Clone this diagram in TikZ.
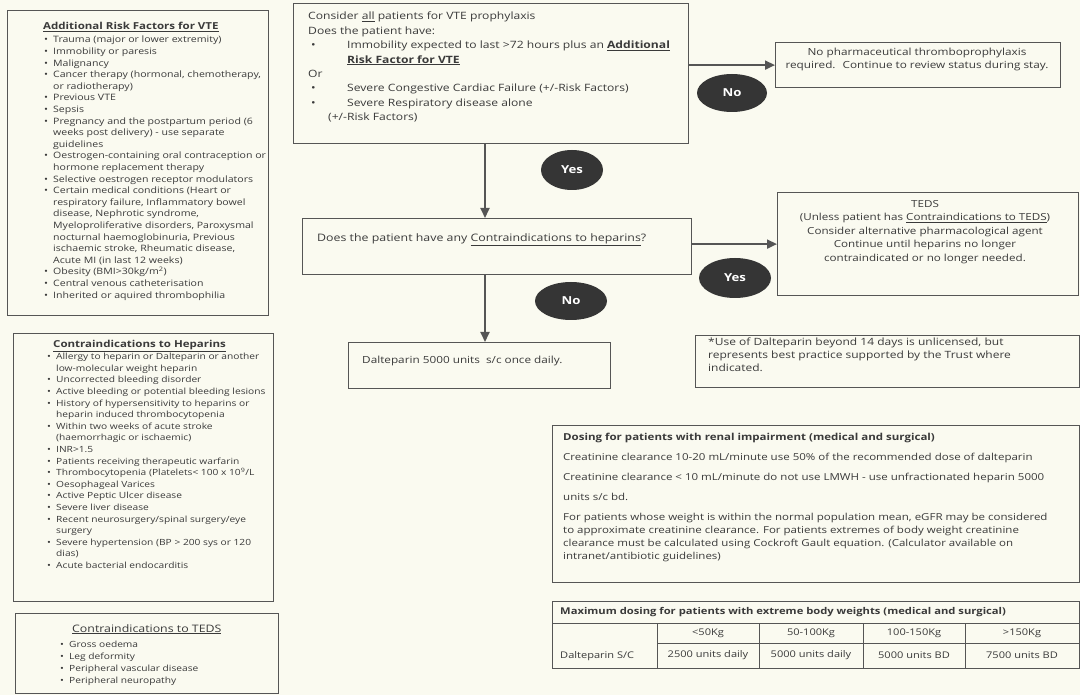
\documentclass[tikz,border=0pt]{standalone}
\usepackage{fontspec}
\setmainfont{Open Sans}[FakeStretch=1.2]
\usepackage{tikz}
\usetikzlibrary{shapes.geometric, arrows.meta, positioning}
\definecolor{paper}{HTML}{FAFAF0}
\definecolor{ink}{HTML}{3A3A3A}
\definecolor{frame}{HTML}{555555}
\definecolor{bubble}{HTML}{353535}
\tikzstyle{panel}  = [draw=frame, line width=1.2pt, anchor=north west, inner sep=0pt]
\tikzstyle{txt}    = [anchor=north west, inner sep=0pt, align=left, text=ink]
\tikzstyle{answer} = [ellipse, fill=bubble, text=white, inner sep=0pt,
                      font=\fontsize{11}{13}\selectfont\bfseries]
\tikzstyle{arrow}  = [-{Triangle[length=10pt,width=9pt]}, line width=1.8pt, color=frame]
\newcommand{\fsz}[2]{\fontsize{#1}{#2}\selectfont}
\newcommand{\bul}{\makebox[9pt][l]{\textbullet}}
\newcommand{\cont}{\hspace*{9pt}}
\newcommand{\tbul}{\makebox[39pt][l]{\hspace{3pt}\textbullet}}

\begin{document}
\begin{tikzpicture}[x=1pt, y=-1pt]
  \fill[paper] (0,0) rectangle (1080,695);
  \useasboundingbox (0,0) rectangle (1080,695);

  %% left column
  \node[panel, minimum width=261pt, minimum height=305pt] (risk) at (7,10) {};
  \node[txt, font=\fsz{9.6}{11}\bfseries] (riskhead) at (43,22) {\underline{Additional Risk Factors for VTE}};
  \node[txt, font=\fsz{8.8}{11.6}] (risklist) at (44,36) {%
    \bul Trauma (major or lower extremity)\\
    \bul Immobility or paresis\\
    \bul Malignancy\\
    \bul Cancer therapy (hormonal, chemotherapy,\\
    \cont or radiotherapy)\\
    \bul Previous VTE\\
    \bul Sepsis\\
    \bul Pregnancy and the postpartum period (6\\
    \cont weeks post delivery) - use separate\\
    \cont guidelines\\
    \bul Oestrogen-containing oral contraception or\\
    \cont hormone replacement therapy\\
    \bul Selective oestrogen receptor modulators\\
    \bul Certain medical conditions (Heart or\\
    \cont respiratory failure, Inflammatory bowel\\
    \cont disease, Nephrotic syndrome,\\
    \cont Myeloproliferative disorders, Paroxysmal\\
    \cont nocturnal haemoglobinuria, Previous\\
    \cont ischaemic stroke, Rheumatic disease,\\
    \cont Acute MI (in last 12 weeks)\\
    \bul Obesity (BMI>30kg/m\textsuperscript{2})\\
    \bul Central venous catheterisation\\
    \bul Inherited or aquired thrombophilia};

  \node[panel, minimum width=260pt, minimum height=268pt] (hepci) at (13,333) {};
  \node[txt, font=\fsz{9.6}{11}\bfseries] (hepcihead) at (53,340) {\underline{Contraindications to Heparins}};
  \node[txt, font=\fsz{8.5}{11.6}] (hepcilist) at (47,353) {%
    \bul Allergy to heparin or Dalteparin or another\\
    \cont low-molecular weight heparin\\
    \bul Uncorrected bleeding disorder\\
    \bul Active bleeding or potential bleeding lesions\\
    \bul History of hypersensitivity to heparins or\\
    \cont heparin induced thrombocytopenia\\
    \bul Within two weeks of acute stroke\\
    \cont (haemorrhagic or ischaemic)\\
    \bul INR>1.5\\
    \bul Patients receiving therapeutic warfarin\\
    \bul Thrombocytopenia (Platelets< 100 x 10\textsuperscript{9}/L\\
    \bul Oesophageal Varices\\
    \bul Active Peptic Ulcer disease\\
    \bul Severe liver disease\\
    \bul Recent neurosurgery/spinal surgery/eye\\
    \cont surgery\\
    \bul Severe hypertension (BP > 200 sys or 120\\
    \cont dias)\\
    \bul Acute bacterial endocarditis};

  \node[panel, minimum width=263pt, minimum height=80pt] (tedsci) at (15,613) {};
  \node[txt, font=\fsz{10.3}{11}] (tedscihead) at (72,624) {\underline{Contraindications to TEDS}};
  \node[txt, font=\fsz{8.5}{11.8}] (tedscilist) at (60,641) {%
    \bul Gross oedema\\
    \bul Leg deformity\\
    \bul Peripheral vascular disease\\
    \bul Peripheral neuropathy};

  %% flow chart
  \node[panel, minimum width=395pt, minimum height=140pt] (screen) at (293,3) {};
  \node[txt, font=\fsz{10.1}{14.4}] (screentext) at (308,12) {%
    Consider \underline{all} patients for VTE prophylaxis\\
    Does the patient have:\\
    \tbul Immobility expected to last >72 hours plus an \underline{\textbf{Additional}}\\
    \hspace*{39pt}\underline{\textbf{Risk Factor for VTE}}\\
    Or\\
    \tbul Severe Congestive Cardiac Failure (+/-Risk Factors)\\
    \tbul Severe Respiratory disease alone\\
    \hspace*{20pt}(+/-Risk Factors)};

  \node[panel, minimum width=285pt, minimum height=45pt] (nodrug) at (775,42) {};
  \node[txt, anchor=north, align=center, font=\fsz{9.8}{13}] (nodrugtext) at (917,48)
    {No pharmaceutical thromboprophylaxis\\required.~ Continue to review status during stay.};

  \node[panel, minimum width=389pt, minimum height=56pt] (hepq) at (302,218) {};
  \node[txt, font=\fsz{10.3}{13}] (hepqtext) at (317,233)
    {Does the patient have any \underline{Contraindications to heparins}?};

  \node[panel, minimum width=301pt, minimum height=103pt] (teds) at (777,192) {};
  \node[txt, anchor=north, align=center, font=\fsz{9.7}{13.5}] (tedstext) at (925,200)
    {TEDS\\(Unless patient has \underline{Contraindications to TEDS})\\Consider alternative pharmacological agent\\
     Continue until heparins no longer\\contraindicated or no longer needed.};

  \node[panel, minimum width=262pt, minimum height=46pt] (dalte) at (348,342) {};
  \node[txt, font=\fsz{9.8}{13}] (daltetext) at (362,356) {Dalteparin 5000 units~ s/c once daily.};

  \node[panel, minimum width=384pt, minimum height=52pt] (note) at (695,335) {};
  \node[txt, font=\fsz{10}{13}] (notetext) at (708,338) {%
    *Use of Dalteparin beyond 14 days is unlicensed, but\\
    represents best practice supported by the Trust where\\
    indicated.};

  %% arrows
  \coordinate (spine) at (485,0);
  \draw[arrow] (screen.south -| spine) -- (hepq.north -| spine);
  \draw[arrow] (hepq.south -| spine) -- (dalte.north -| spine);
  \draw[arrow] (screen.east |- nodrug.west) -- (nodrug.west);
  \draw[arrow] (hepq.east |- teds.west) -- (teds.west);

  \node[answer, minimum width=62pt, minimum height=40pt] (yes1) at (572,170) {Yes};
  \node[answer, minimum width=70pt, minimum height=38pt] (no1) at (732,93) {No};
  \node[answer, minimum width=72pt, minimum height=40pt] (yes2) at (735,278) {Yes};
  \node[answer, minimum width=72pt, minimum height=38pt] (no2) at (571,301) {No};

  %% renal impairment
  \node[panel, minimum width=527pt, minimum height=157pt] (renal) at (552,425) {};
  \node[txt, font=\fsz{9.6}{13}] (renaltext) at (563,433) {%
    \textbf{Dosing for patients with renal impairment (medical and surgical)}\\[7pt]
    Creatinine clearance 10-20 mL/minute use 50\% of the recommended dose of dalteparin\\[7pt]
    Creatinine clearance < 10 mL/minute do not use LMWH - use unfractionated heparin 5000\\[7pt]
    units s/c bd.\\[7pt]
    For patients whose weight is within the normal population mean, eGFR may be considered\\
    to approximate creatinine clearance. For patients extremes of body weight creatinine\\
    clearance must be calculated using Cockroft Gault equation. (Calculator available on\\
    intranet/antibiotic guidelines)};

  %% extreme body weights
  \node[panel, line width=1pt, minimum width=527pt, minimum height=67pt] (dosing) at (552,601) {};
  \draw[frame, line width=1pt] (dosing.west |- 0,623) -- (dosing.east |- 0,623);
  \draw[frame, line width=1pt] (657,643) -- (dosing.east |- 0,643);
  \foreach \x in {657,759,863,965}
    \draw[frame, line width=1pt] (\x,623) -- (\x,668);
  \node[txt, font=\fsz{9.35}{11}\bfseries] (dosinghead) at (560,607)
    {Maximum dosing for patients with extreme body weights (medical and surgical)};
  \node[txt, font=\fsz{9.2}{11}] (dosingdrug) at (560,651) {Dalteparin S/C};
  \foreach \x/\w/\d in {708/{<50Kg}/{2500 units daily}, 811/{50-100Kg}/{5000 units daily},
                        914/{100-150Kg}/{5000 units BD}, 1022/{>150Kg}/{7500 units BD}} {
    \node[text=ink, font=\fsz{9.2}{11}] (wt\x) at (\x,633) {\w};
    \node[text=ink, font=\fsz{9.2}{11}] (dose\x) at (\x,655) {\d};
  }
\end{tikzpicture}
\end{document}
